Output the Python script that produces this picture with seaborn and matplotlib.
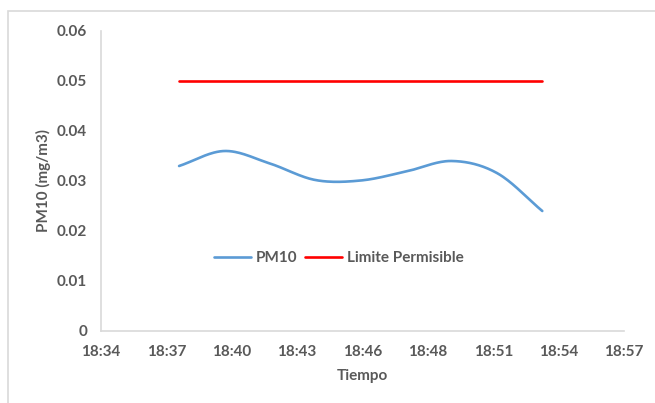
import numpy as np
import pandas as pd
import matplotlib
matplotlib.use("Agg")
import matplotlib.pyplot as plt
import matplotlib.dates as mdates
from matplotlib.patches import Rectangle
import seaborn as sns

# data
times = ["18:38", "18:40", "18:42", "18:44", "18:46", "18:48", "18:50", "18:52", "18:54"]
pm10 = [0.033, 0.036, 0.0335, 0.0302, 0.0301, 0.0319, 0.034, 0.0316, 0.024]
limite = [0.05, 0.05, 0.05, 0.05, 0.05, 0.05, 0.05, 0.05, 0.05]
xtick_labels = ["18:34", "18:37", "18:40", "18:43", "18:46", "18:48", "18:51", "18:54", "18:57"]
yticks = [0, 0.01, 0.02, 0.03, 0.04, 0.05, 0.06]

sns.set_theme(style="white")
plt.rcParams['font.family'] = ['Lato', 'DejaVu Sans']
grey = "#595959"
fs = 11

x = mdates.date2num(pd.to_datetime(["2000-01-01 " + t for t in times]))


def smooth(xs, ys, n=30):
    # excel-like smoothed line (catmull-rom through the points)
    xs = np.asarray(xs, float)
    ys = np.asarray(ys, float)
    px = np.concatenate([[2 * xs[0] - xs[1]], xs, [2 * xs[-1] - xs[-2]]])
    py = np.concatenate([[2 * ys[0] - ys[1]], ys, [2 * ys[-1] - ys[-2]]])
    ox, oy = [], []
    for i in range(1, len(px) - 2):
        t = np.linspace(0, 1, n, endpoint=(i == len(px) - 3))
        for p, o in ((px, ox), (py, oy)):
            p0, p1, p2, p3 = p[i - 1], p[i], p[i + 1], p[i + 2]
            c1 = p1 + (p2 - p0) / 6
            c2 = p2 - (p3 - p1) / 6
            o.extend((1 - t) ** 3 * p1 + 3 * (1 - t) ** 2 * t * c1 + 3 * (1 - t) * t ** 2 * c2 + t ** 3 * p2)
    return np.array(ox), np.array(oy)


sx, sy = smooth(x, pm10)

fig = plt.figure(figsize=(6.55, 4.03), dpi=100)
ax = fig.add_axes([101 / 655, 1 - 331 / 403, 523 / 655, 300 / 403])

sns.lineplot(x=sx, y=sy, ax=ax, color="#5B9BD5", linewidth=1.9, sort=False, estimator=None, label="PM10")
sns.lineplot(x=x, y=limite, ax=ax, color="#FF0000", linewidth=1.9, sort=False, estimator=None,
             label="Limite Permisible")

start = pd.Timestamp("2000-01-01 18:34:33.6")
ticks = [mdates.date2num(start + pd.Timedelta(seconds=172.8 * k)) for k in range(len(xtick_labels))]
ax.set_xlim(ticks[0], ticks[-1])
ax.set_xticks(ticks)
ax.set_xticklabels(xtick_labels)
ax.set_ylim(0, 0.06)
ax.set_yticks(yticks)
ax.set_yticklabels(["0", "0.01", "0.02", "0.03", "0.04", "0.05", "0.06"])

ax.tick_params(length=0, labelsize=fs, labelcolor=grey, pad=10)
for lab in ax.get_xticklabels() + ax.get_yticklabels():
    lab.set_fontweight("bold")
for s in ["top", "right"]:
    ax.spines[s].set_visible(False)
for s in ["left", "bottom"]:
    ax.spines[s].set_color("#D9D9D9")
    ax.spines[s].set_linewidth(1.2)

ax.set_xlabel("Tiempo", fontsize=fs, fontweight="bold", color=grey, labelpad=7)
ax.set_ylabel("PM10 (mg/m3)", fontsize=fs, fontweight="bold", color=grey, labelpad=4)

leg = ax.legend(loc="center", bbox_to_anchor=(0.455, 0.243), ncol=2, frameon=False,
                handlelength=2.4, handletextpad=0.35, columnspacing=0.5,
                prop={"family": ["Lato", "DejaVu Sans"], "weight": "bold", "size": fs})
for t in leg.get_texts():
    t.set_color(grey)

fig.patches.append(Rectangle((7.5 / 655, -0.05), 1.1, 1 - 11 / 403 + 0.05, transform=fig.transFigure,
                             fill=False, edgecolor="#D9D9D9", linewidth=1.2))

fig.savefig("out.png", dpi=100)
